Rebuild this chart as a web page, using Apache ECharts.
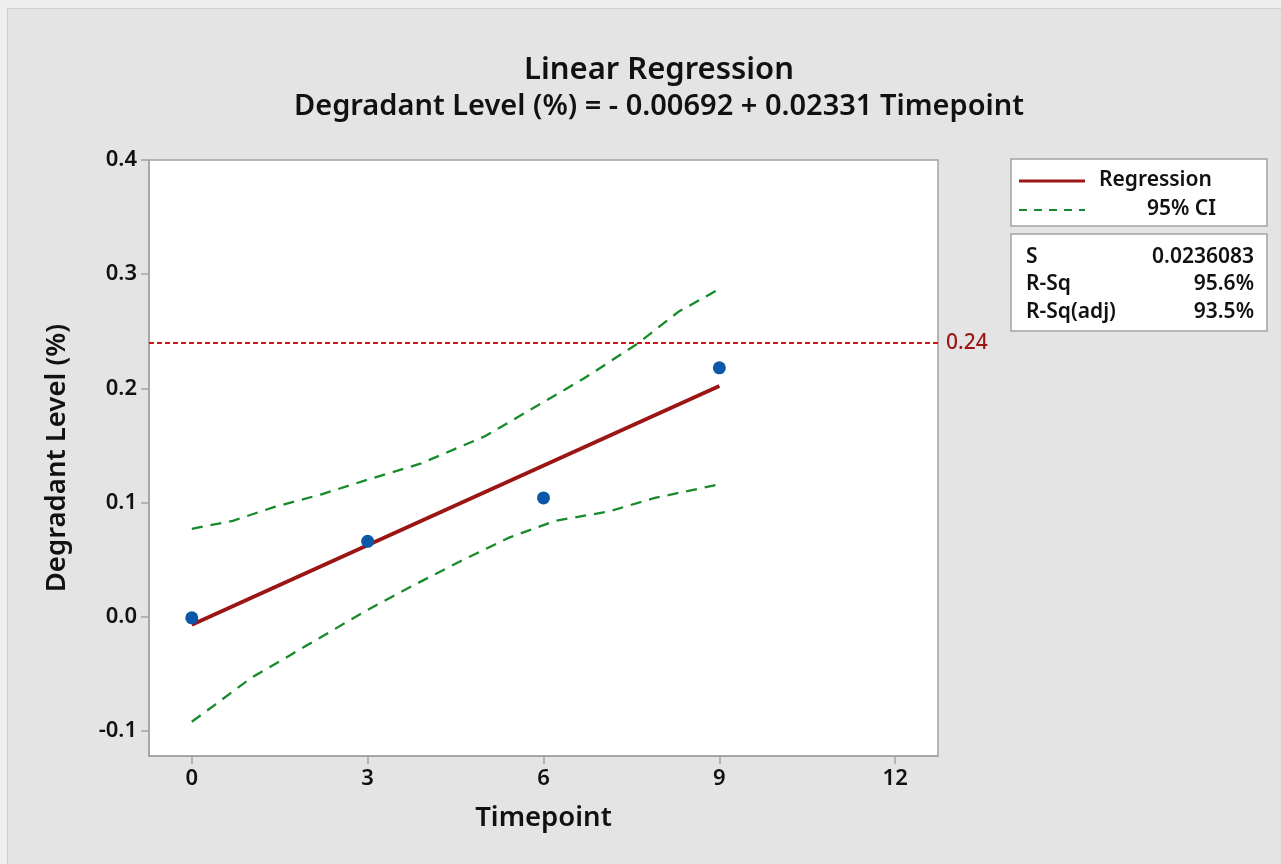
<!DOCTYPE html>
<html>
<head>
<meta charset="utf-8">
<script src="https://cdn.jsdelivr.net/npm/echarts@6/dist/echarts.min.js"></script>
<style>
  html, body { margin: 0; padding: 0; background: #eeeeee; }
  #frame { position: absolute; left: 7px; top: 8px; width: 1300px; height: 900px; background: #e4e4e4; border: 1.5px solid #cfcfcf; box-sizing: border-box; }
  #chart { position: absolute; left: 0; top: 0; width: 1281px; height: 864px; }
</style>
</head>
<body>
<div id="frame"></div>
<div id="chart"></div>
<script>
// ---- data ----
const timepoints = [0, 3, 6, 9];
const degradant = [-0.001, 0.066, 0.104, 0.218];

const regressionT = [0, 9];
const regressionY = [-0.007, 0.202];

const upperT = [0, 0.7, 1.4, 2.2, 3, 3.9, 5, 5.9, 6.7, 7.6, 8.3, 9];
const upperY = [0.077, 0.084, 0.096, 0.107, 0.120, 0.134, 0.158, 0.185, 0.209, 0.239, 0.267, 0.287];

const lowerT = [0, 0.4, 1, 1.7, 2.4, 3, 3.8, 4.6, 5.4, 6.2, 7.1, 7.9, 9];
const lowerY = [-0.092, -0.077, -0.054, -0.033, -0.012, 0.006, 0.028, 0.049, 0.069, 0.084, 0.092, 0.104, 0.116];

const specLimit = 0.24;
const xTicks = [0, 3, 6, 9, 12];
const yTicks = [-0.1, 0.0, 0.1, 0.2, 0.3, 0.4];

const titleText = 'Linear Regression';
const subtitleText = 'Degradant Level (%) = - 0.00692 + 0.02331 Timepoint';
const legendNames = ['Regression', '95% CI'];
const statNames = ['S', 'R-Sq', 'R-Sq(adj)'];
const statValues = ['0.0236083', '95.6%', '93.5%'];

const zip = (a, b) => a.map((v, i) => [v, b[i]]);

const FONT = 'Noto Sans';
const chart = echarts.init(document.getElementById('chart'), null, { renderer: 'canvas' });

const gx = 1011, gw = 256;
const axisGray = '#a3a3a3';
const ciGreen = '#178a2a';
const option = {
  animation: false,
  backgroundColor: 'transparent',
  textStyle: { fontFamily: FONT },
  title: [
    { text: titleText, left: 654, top: 50, textAlign: 'center',
      textStyle: { fontFamily: FONT, fontSize: 31, fontWeight: 600, color: '#111' } },
    { text: subtitleText, left: 654, top: 87, textAlign: 'center',
      textStyle: { fontFamily: FONT, fontSize: 29, fontWeight: 600, color: '#111' } }
  ],
  grid: { left: 149, top: 160, width: 789, height: 596, show: true,
          backgroundColor: '#ffffff', borderColor: axisGray, borderWidth: 1.5 },
  xAxis: {
    type: 'value', min: -0.73, max: 12.73,
    name: 'Timepoint', nameLocation: 'middle', nameGap: 48,
    nameTextStyle: { fontFamily: FONT, fontSize: 27.5, fontWeight: 600, color: '#111' },
    axisLine: { show: true, onZero: false, lineStyle: { color: axisGray, width: 1.5 } },
    splitLine: { show: false },
    axisTick: { show: true, length: 8, customValues: xTicks, lineStyle: { color: axisGray, width: 1.5 } },
    axisLabel: { customValues: xTicks, margin: 12, fontFamily: FONT, fontSize: 22, fontWeight: 600, color: '#111',
                 formatter: v => String(Math.round(v)) }
  },
  yAxis: {
    type: 'value', min: -0.122, max: 0.4,
    name: 'Degradant Level (%)', nameLocation: 'middle', nameGap: 78, nameRotate: 90,
    nameTextStyle: { fontFamily: FONT, fontSize: 27.5, fontWeight: 600, color: '#111' },
    axisLine: { show: true, onZero: false, lineStyle: { color: axisGray, width: 1.5 } },
    splitLine: { show: false },
    axisTick: { show: true, length: 8, customValues: yTicks, lineStyle: { color: axisGray, width: 1.5 } },
    axisLabel: { customValues: yTicks, margin: 12, fontFamily: FONT, fontSize: 22, fontWeight: 600, color: '#111',
                 formatter: v => v.toFixed(1) }
  },
  series: [
    { name: '95% CI upper', type: 'line', data: zip(upperT, upperY), showSymbol: false, smooth: false,
      lineStyle: { color: ciGreen, width: 2.3, type: [11, 8] }, z: 3 },
    { name: '95% CI lower', type: 'line', data: zip(lowerT, lowerY), showSymbol: false, smooth: false,
      lineStyle: { color: ciGreen, width: 2.3, type: [11, 8] }, z: 3 },
    { name: 'Regression', type: 'line', data: zip(regressionT, regressionY), showSymbol: false,
      lineStyle: { color: '#9b1515', width: 3.8 }, z: 4,
      markLine: {
        silent: true, symbol: ['none', 'none'],
        lineStyle: { color: '#d41010', width: 1.8, type: [5, 3] },
        label: { show: true, position: 'end', distance: 8, formatter: '0.24',
                 fontFamily: FONT, fontSize: 21, fontWeight: 500, color: '#9b1515' },
        data: [{ yAxis: specLimit }]
      } },
    { name: 'Data', type: 'scatter', data: zip(timepoints, degradant), symbol: 'circle', symbolSize: 13,
      itemStyle: { color: '#0b57a8', opacity: 1 }, z: 5 }
  ],
  graphic: [
    { type: 'rect', shape: { x: gx, y: 159, width: gw, height: 67 },
      style: { fill: '#ffffff', stroke: axisGray, lineWidth: 1.5 } },
    { type: 'line', shape: { x1: 1019, y1: 181, x2: 1085, y2: 181 },
      style: { stroke: '#9b1515', lineWidth: 3 } },
    { type: 'line', shape: { x1: 1019, y1: 210, x2: 1085, y2: 210 },
      style: { stroke: ciGreen, lineWidth: 2, lineDash: [8, 7] } },
    { type: 'text', x: 1099, y: 180,
      style: { text: legendNames[0], font: '600 21px "Noto Sans"', fill: '#111', textVerticalAlign: 'middle' } },
    { type: 'text', x: 1216, y: 209,
      style: { text: legendNames[1], font: '600 21px "Noto Sans"', fill: '#111', textAlign: 'right', textVerticalAlign: 'middle' } },
    { type: 'rect', shape: { x: gx, y: 234, width: gw, height: 97 },
      style: { fill: '#ffffff', stroke: axisGray, lineWidth: 1.5 } },
    ...statNames.map((s, i) => ({ type: 'text', x: 1026, y: 257 + i * 27.5,
      style: { text: s, font: '600 21px "Noto Sans"', fill: '#111', textVerticalAlign: 'middle' } })),
    ...statValues.map((s, i) => ({ type: 'text', x: 1254, y: 257 + i * 27.5,
      style: { text: s, font: '600 21px "Noto Sans"', fill: '#111', textAlign: 'right', textVerticalAlign: 'middle' } }))
  ]
};
chart.setOption(option);
</script>
</body>
</html>
